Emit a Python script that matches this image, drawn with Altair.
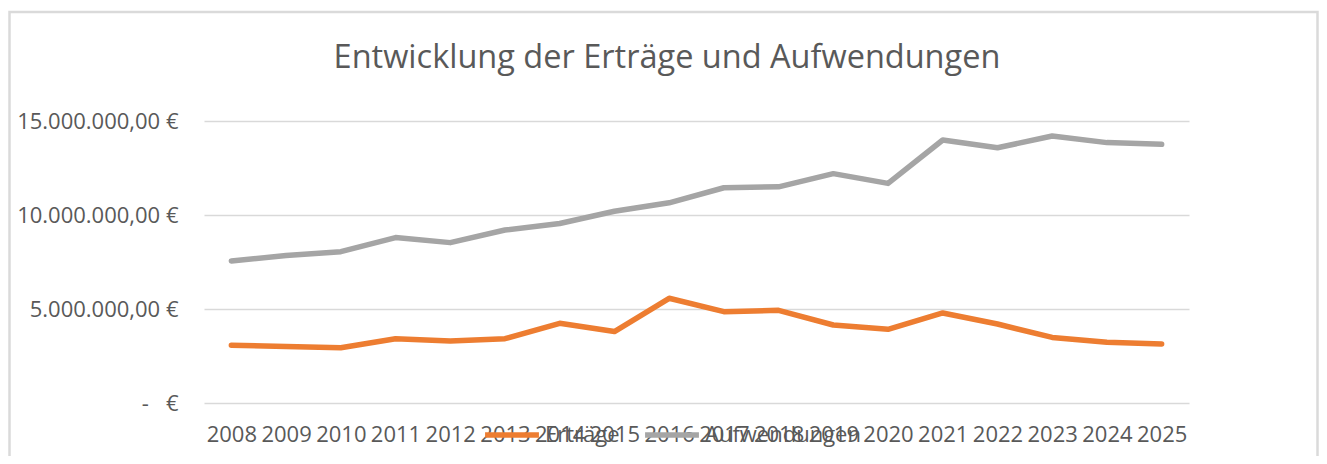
import altair as alt
import pandas as pd

years = [str(y) for y in range(2008, 2026)]
ertraege = [3070000, 3010000, 2940000, 3420000, 3300000, 3420000, 4240000, 3800000, 5570000,
            4860000, 4930000, 4150000, 3920000, 4790000, 4200000, 3490000, 3230000, 3140000]
aufwendungen = [7550000, 7840000, 8050000, 8800000, 8530000, 9200000, 9550000, 10200000, 10650000,
                11450000, 11500000, 12200000, 11680000, 13990000, 13580000, 14200000, 13850000, 13760000]
series_names = ["Erträge", "Aufwendungen"]
series_colors = ["#ED7D31", "#A5A5A5"]
tick_values = [0, 5000000, 10000000, 15000000]
tick_labels = ["-\u00a0\u00a0\u00a0€", "5.000.000,00 €", "10.000.000,00 €", "15.000.000,00 €"]
title_text = ["Entwicklung der Erträge und Aufwendungen"]

rows = []
for i, y in enumerate(years):
    rows.append({"Jahr": y, "Reihe": series_names[0], "Wert": ertraege[i]})
    rows.append({"Jahr": y, "Reihe": series_names[1], "Wert": aufwendungen[i]})
df = pd.DataFrame(rows)

label_expr = " : ".join(
    f"datum.value == {v} ? '{l}'" for v, l in zip(tick_values, tick_labels)
) + " : ''"

FONT = "Open Sans"
TXT = "#595959"
FS = 22

W, H = 985, 282
PAD_L, PAD_T = 196, 113
PAD_R = 1311 - PAD_L - W
PAD_B = 448 - PAD_T - H

frame = alt.Chart(pd.DataFrame({"a": [0]})).mark_rect(
    fill="transparent", stroke="#DADADA", strokeWidth=2.5
).encode(
    x=alt.value(-194.5), x2=alt.value(1113.5), y=alt.value(-109), y2=alt.value(400)
)

title = alt.Chart(pd.DataFrame({"t": title_text})).mark_text(
    font=FONT, fontSize=32.5, color=TXT, align="center", baseline="middle"
).encode(text="t:N", x=alt.value(463), y=alt.value(-63))

lines = alt.Chart(df).mark_line(strokeWidth=5.5, strokeCap="round", strokeJoin="round").encode(
    x=alt.X("Jahr:O", sort=years, scale=alt.Scale(type="point", padding=0.5),
            axis=alt.Axis(title=None, labelAngle=0, domain=False, ticks=False,
                          labelFont=FONT, labelFontSize=FS, labelColor=TXT,
                          labelPadding=21, grid=False)),
    y=alt.Y("Wert:Q", scale=alt.Scale(domain=[0, 15000000], nice=False),
            axis=alt.Axis(title=None, values=tick_values, labelExpr=label_expr,
                          domain=False, ticks=False, labelFont=FONT, labelFontSize=FS,
                          labelColor=TXT, labelPadding=26, gridColor="#D9D9D9",
                          gridWidth=1.5)),
    color=alt.Color("Reihe:N", sort=series_names,
                    scale=alt.Scale(domain=series_names, range=series_colors),
                    legend=alt.Legend(title=None, orient="none", direction="horizontal",
                                      legendX=278, legendY=284, symbolType="stroke",
                                      symbolSize=2900, symbolStrokeWidth=5.5,
                                      labelFont=FONT, labelFontSize=FS, labelColor=TXT,
                                      columnPadding=14, labelOffset=3, padding=0)),
    detail="Reihe:N",
)

chart = alt.layer(frame, title, lines).properties(
    width=W, height=H,
    autosize=alt.AutoSizeParams(type="none"),
    padding={"left": PAD_L, "top": PAD_T, "right": PAD_R, "bottom": PAD_B},
).configure(background="white").configure_view(strokeWidth=0)

chart.save("out.html", embed_options={"renderer": "svg", "actions": False})
